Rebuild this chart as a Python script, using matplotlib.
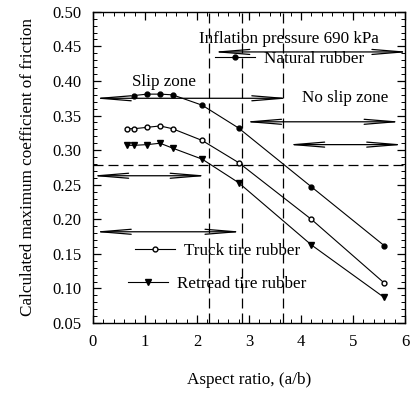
import numpy as np
import matplotlib
matplotlib.use('Agg')
import matplotlib.pyplot as plt
from matplotlib.ticker import MultipleLocator

plt.rcParams['font.family'] = ['Liberation Serif', 'DejaVu Serif']
plt.rcParams['mathtext.fontset'] = 'stix'

#------------------------------------------------------------------------------
# Data
#------------------------------------------------------------------------------
x_nat = [0.79, 1.04, 1.29, 1.53, 2.10, 2.80, 4.20, 5.60]
y_nat = [0.379, 0.381, 0.381, 0.380, 0.365, 0.332, 0.247, 0.162]

x_truck = [0.65, 0.79, 1.04, 1.29, 1.53, 2.10, 2.80, 4.20, 5.60]
y_truck = [0.331, 0.331, 0.333, 0.335, 0.331, 0.314, 0.282, 0.200, 0.108]

x_ret = [0.65, 0.79, 1.04, 1.29, 1.53, 2.10, 2.80, 4.20, 5.60]
y_ret = [0.307, 0.307, 0.308, 0.310, 0.303, 0.287, 0.253, 0.163, 0.087]

# zone boundaries
v_dash = [2.24, 2.87, 3.65]
h_dash = 0.279

# double arrows: (x start, x end, y)
arrows = [(0.0, 3.79, 0.375),
          (2.28, 6.1, 0.442),
          (2.89, 5.95, 0.341),
          (3.72, 6.0, 0.308),
          (-0.05, 2.22, 0.263),
          (0.0, 2.89, 0.182)]

fs = 12.3

#------------------------------------------------------------------------------
# Plot
#------------------------------------------------------------------------------
fig = plt.figure(figsize=(4.14, 3.94), dpi=100)
ax = fig.add_axes([0.2246, 0.180, 0.7536, 0.790])

for xv in v_dash:
    ax.axvline(xv, color='k', lw=0.9, ls=(0, (8, 4)))
ax.axhline(h_dash, color='k', lw=0.9, ls=(0, (8, 4)))

for x0, x1, yy in arrows:
    ax.annotate('', xy=(x0, yy), xytext=(x1, yy), xycoords='data',
                arrowprops=dict(arrowstyle='<->,head_length=2.2,head_width=0.18',
                                lw=0.9, color='k', mutation_scale=10,
                                shrinkA=0, shrinkB=0),
                annotation_clip=False)

l1, = ax.plot(x_nat, y_nat, 'k-', lw=0.8, marker='o', ms=3.5, mfc='k')
l2, = ax.plot(x_truck, y_truck, 'k-', lw=0.8, marker='o', ms=3.5, mfc='white')
l3, = ax.plot(x_ret, y_ret, 'k-', lw=0.8, marker='v', ms=4, mfc='k')

legs = [(l1, 'Natural rubber', 0.391, 0.848),
        (l2, 'Truck tire rubber', 0.135, 0.231),
        (l3, 'Retread tire rubber', 0.112, 0.125)]
for h, lab, lx, ly in legs:
    lg = ax.legend([h], [lab], loc='center left', bbox_to_anchor=(lx, ly),
                   frameon=False, fontsize=fs, borderpad=0, borderaxespad=0,
                   handlelength=2.35, handletextpad=0.52, numpoints=1)
    ax.add_artist(lg)
ax.legend_ = None

ax.text(2.04, 0.4605, 'Inflation pressure 690 kPa', fontsize=fs, va='center')
ax.text(0.75, 0.398, 'Slip zone', fontsize=fs, va='center')
ax.text(4.02, 0.375, 'No slip zone', fontsize=fs, va='center')

ax.set_xlim(0, 6)
ax.set_ylim(0.05, 0.50)
ax.xaxis.set_major_locator(MultipleLocator(1))
ax.xaxis.set_minor_locator(MultipleLocator(0.2))
ax.yaxis.set_major_locator(MultipleLocator(0.05))
ax.yaxis.set_minor_locator(MultipleLocator(0.01))
ax.yaxis.set_major_formatter(matplotlib.ticker.FormatStrFormatter('%.2f'))
ax.tick_params(which='both', direction='in', top=True, right=True, labelsize=12)
ax.tick_params(which='major', length=6, width=0.9)
ax.tick_params(which='minor', length=3, width=0.7)
ax.tick_params(axis='x', pad=8)
ax.tick_params(axis='y', pad=8)
for s in ax.spines.values():
    s.set_linewidth(1.0)

ax.set_xlabel('Aspect ratio, (a/b)', fontsize=fs, labelpad=16)
ax.set_ylabel('Calculated maximum coefficient of friction', fontsize=fs, labelpad=12)

plt.savefig('out.png', dpi=100)
